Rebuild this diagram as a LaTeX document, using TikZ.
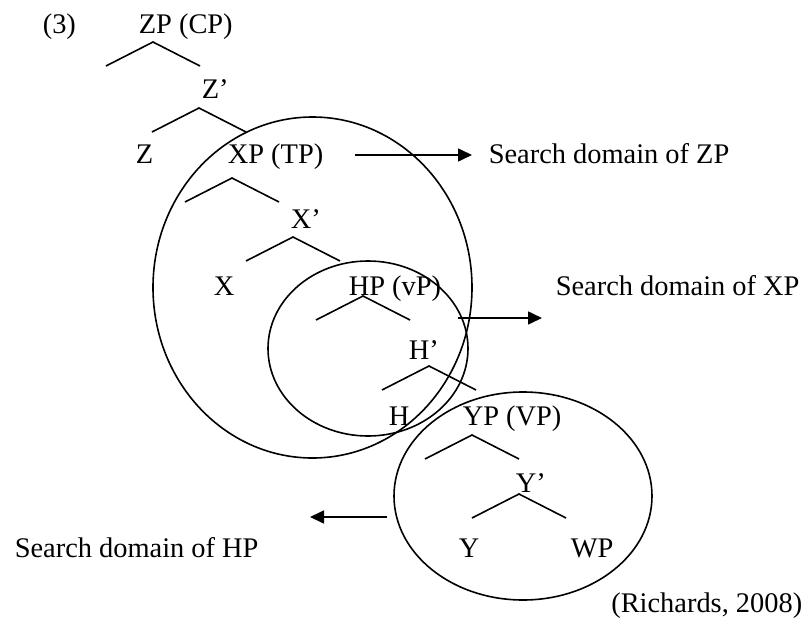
\documentclass[tikz,border=0pt]{standalone}
\usepackage{fontspec}
\setmainfont{Liberation Serif}
\usepackage{tikz}
\usetikzlibrary{positioning}
\usetikzlibrary{arrows.meta,calc}
\tikzset{lbl/.style={inner sep=0pt,anchor=base west},
	arr/.style={line width=0.8pt,-{Triangle[length=7pt,width=6.5pt]}}}
\newcommand{\brnch}[1]{\draw ($(#1)+(-47,24)$) -- (#1) -- ($(#1)+(47,24)$);}

\begin{document}
\begin{tikzpicture}[x=0.5pt,y=-0.5pt,line width=0.8pt,font=\fontsize{14.2}{17}\selectfont]
	\useasboundingbox (0,0) rectangle (804,632);

	\node [lbl] (ex) at (42,33) {(3)};
	\node [lbl] (zp) at (138,33) {ZP (CP)};
	\node [lbl] (zbar) at (201,98) {Z'};
	\node [lbl] (z) at (135,163) {Z};
	\node [lbl] (xp) at (227,163) {XP (TP)};
	\node [lbl] (xbar) at (290,228) {X'};
	\node [lbl] (x) at (213,295) {X};
	\node [lbl] (hp) at (348,295) {HP (vP)};
	\node [lbl] (hbar) at (408,359) {H'};
	\node [lbl] (h) at (388,425) {H};
	\node [lbl] (yp) at (462,425) {YP (VP)};
	\node [lbl] (ybar) at (515,492) {Y'};
	\node [lbl] (y) at (458,557) {Y};
	\node [lbl] (wp) at (570,557) {WP};

	\node [lbl] (szp) at (488,163) {Search domain of ZP};
	\node [lbl] (sxp) at (555,295) {Search domain of XP};
	\node [lbl] (shp) at (14,557) {Search domain of HP};
	\node [inner sep=0pt,anchor=base east] (src) at (803,612) {(Richards, 2008)};

	\coordinate (zpb) at (153,42);
	\coordinate (zbarb) at (199,108);
	\coordinate (xpb) at (232,178);
	\coordinate (xbarb) at (293,237);
	\coordinate (hpb) at (363,296);
	\coordinate (hbarb) at (429,366);
	\coordinate (ypb) at (472,435);
	\coordinate (ybarb) at (519,494);
	\brnch{zpb}
	\brnch{zbarb}
	\brnch{xpb}
	\brnch{xbarb}
	\brnch{hpb}
	\brnch{hbarb}
	\brnch{ypb}
	\brnch{ybarb}

	\draw (312.5,287.5) ellipse [x radius=79.75pt,y radius=85.25pt];
	\draw (368,348.5) ellipse [x radius=50pt,y radius=43.75pt];
	\draw (523,496) ellipse [x radius=64.5pt,y radius=52pt];

	\coordinate (a1s) at (355,155);
	\coordinate (a1e) at (472,155);
	\coordinate (a2s) at (458,318);
	\coordinate (a2e) at (542,318);
	\coordinate (a3s) at (387,517);
	\coordinate (a3e) at (310,517);
	\draw [arr] (a1s) -- (a1e);
	\draw [arr] (a2s) -- (a2e);
	\draw [arr] (a3s) -- (a3e);
\end{tikzpicture}
\end{document}
